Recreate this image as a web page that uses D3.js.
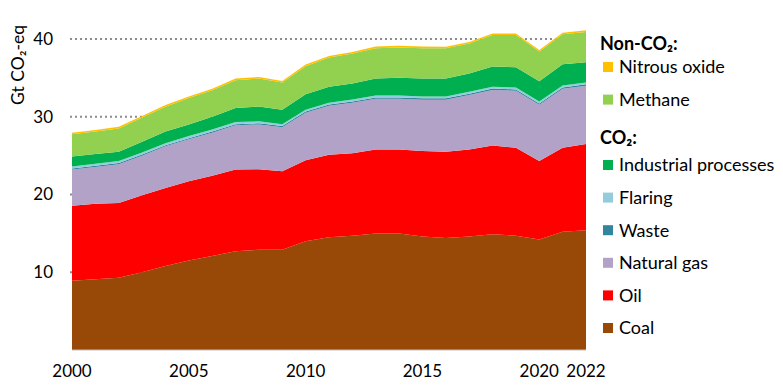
<!DOCTYPE html>
<html>
<head>
<meta charset="utf-8">
<script src="https://cdn.jsdelivr.net/npm/d3@7"></script>
<style>
  body { margin: 0; background: #fff; }
  svg { display: block; font-family: Lato, "Open Sans", sans-serif; }
</style>
</head>
<body>
<svg id="chart" width="783" height="386"></svg>
<script>
// data (Gt CO2-eq)
var years = d3.range(2000, 2023);
var coal = [8.9, 9.1, 9.3, 10.0, 10.8, 11.5, 12.1, 12.7, 12.9, 12.9, 14.0, 14.5, 14.7, 15.0, 15.0, 14.6, 14.4, 14.6, 14.9, 14.7, 14.2, 15.2, 15.4];
var oil = [9.65, 9.7, 9.6, 9.9, 10.05, 10.2, 10.3, 10.5, 10.35, 10.1, 10.4, 10.6, 10.6, 10.8, 10.8, 11.0, 11.1, 11.2, 11.4, 11.3, 10.1, 10.8, 11.1];
var naturalGas = [4.65, 4.75, 5.0, 5.1, 5.35, 5.4, 5.55, 5.7, 5.75, 5.65, 6.1, 6.3, 6.5, 6.5, 6.5, 6.6, 6.7, 7.0, 7.15, 7.35, 7.25, 7.6, 7.5];
var waste = [0.15, 0.15, 0.15, 0.15, 0.15, 0.15, 0.15, 0.15, 0.16, 0.16, 0.16, 0.16, 0.16, 0.16, 0.17, 0.17, 0.17, 0.17, 0.17, 0.17, 0.17, 0.17, 0.17];
var flaring = [0.25, 0.25, 0.25, 0.25, 0.25, 0.26, 0.26, 0.26, 0.25, 0.24, 0.25, 0.25, 0.26, 0.26, 0.25, 0.25, 0.24, 0.24, 0.25, 0.25, 0.23, 0.24, 0.24];
var industrial = [1.3, 1.25, 1.2, 1.4, 1.5, 1.5, 1.65, 1.8, 1.9, 1.85, 2.0, 2.05, 2.05, 2.2, 2.3, 2.3, 2.3, 2.35, 2.6, 2.6, 2.6, 2.75, 2.6];
var methane = [2.85, 2.9, 3.0, 3.1, 3.2, 3.4, 3.4, 3.6, 3.6, 3.5, 3.6, 3.75, 3.85, 3.9, 3.9, 3.9, 3.9, 3.85, 4.05, 4.15, 3.85, 3.85, 3.9];
var nitrous = [0.2, 0.2, 0.2, 0.2, 0.2, 0.2, 0.2, 0.2, 0.2, 0.2, 0.2, 0.2, 0.2, 0.2, 0.2, 0.2, 0.2, 0.2, 0.2, 0.2, 0.2, 0.2, 0.2];

var yTicks = [10, 20, 30, 40];
var xTicks = [2000, 2005, 2010, 2015, 2020, 2022];

var keys = ['coal', 'oil', 'naturalGas', 'waste', 'flaring', 'industrial', 'methane', 'nitrous'];
var colors = {
  coal: '#984807', oil: '#ff0000', naturalGas: '#b3a2c7', waste: '#31859c',
  flaring: '#93cddd', industrial: '#00b050', methane: '#92d050', nitrous: '#ffc000'
};
var series = {
  coal: coal, oil: oil, naturalGas: naturalGas, waste: waste,
  flaring: flaring, industrial: industrial, methane: methane, nitrous: nitrous
};

var table = years.map(function (yr, i) {
  var row = { year: yr };
  keys.forEach(function (k) { row[k] = series[k][i]; });
  return row;
});

var svg = d3.select('#chart');
var x = d3.scaleLinear().domain([2000, 2022]).range([72, 586]);
var y = d3.scaleLinear().domain([0, 40]).range([350, 39]);

// dotted gridlines sit behind the areas
svg.append('g').selectAll('line')
  .data(yTicks)
  .enter().append('line')
  .attr('x1', 70).attr('x2', 586)
  .attr('y1', function (d) { return y(d); })
  .attr('y2', function (d) { return y(d); })
  .attr('stroke', '#8c8c8c')
  .attr('stroke-width', 2)
  .attr('stroke-dasharray', '2,3');

var stack = d3.stack().keys(keys);
var area = d3.area()
  .x(function (d) { return x(d.data.year); })
  .y0(function (d) { return y(d[0]); })
  .y1(function (d) { return y(d[1]); });

svg.append('g').selectAll('path')
  .data(stack(table))
  .enter().append('path')
  .attr('d', area)
  .attr('fill', function (d) { return colors[d.key]; });

// baseline
svg.append('line')
  .attr('x1', 72).attr('x2', 586)
  .attr('y1', y(0)).attr('y2', y(0))
  .attr('stroke', '#bfbfbf').attr('stroke-width', 1);

// y tick labels
svg.append('g').selectAll('text')
  .data(yTicks)
  .enter().append('text')
  .attr('x', 53)
  .attr('y', function (d) { return y(d); })
  .attr('dy', '0.35em')
  .attr('text-anchor', 'end')
  .attr('font-size', 17)
  .attr('fill', '#000')
  .text(function (d) { return d; });

// x tick labels
svg.append('g').selectAll('text')
  .data(xTicks)
  .enter().append('text')
  .attr('x', function (d) { return x(d); })
  .attr('y', 377)
  .attr('text-anchor', 'middle')
  .attr('font-size', 17)
  .attr('fill', '#000')
  .text(function (d) { return d; });

// y axis title
svg.append('text')
  .attr('transform', 'translate(24,65)rotate(-90)')
  .attr('text-anchor', 'middle')
  .attr('font-size', 17.5)
  .text('Gt CO\u2082-eq');

// legend
var legendGroups = [
  { title: 'Non-CO\u2082:', y: 44, first: 23, items: [['nitrous', 'Nitrous oxide'], ['methane', 'Methane']] },
  { title: 'CO\u2082:', y: 138, first: 27, items: [['industrial', 'Industrial processes'], ['flaring', 'Flaring'], ['waste', 'Waste'], ['naturalGas', 'Natural gas'], ['oil', 'Oil'], ['coal', 'Coal']] }
];

var legend = svg.append('g');
legendGroups.forEach(function (grp) {
  legend.append('text')
    .attr('x', 600)
    .attr('y', grp.y)
    .attr('dy', '0.35em')
    .attr('font-size', 18)
    .attr('font-weight', 'bold')
    .text(grp.title);

  var rows = legend.append('g').selectAll('g')
    .data(grp.items)
    .enter().append('g')
    .attr('transform', function (d, i) {
      return 'translate(0,' + (grp.y + grp.first + i * 32.6) + ')';
    });

  rows.append('rect')
    .attr('x', 603).attr('y', -5)
    .attr('width', 10).attr('height', 10)
    .attr('fill', function (d) { return colors[d[0]]; });

  rows.append('text')
    .attr('x', 619)
    .attr('dy', '0.35em')
    .attr('font-size', 18)
    .text(function (d) { return d[1]; });
});
</script>
</body>
</html>
